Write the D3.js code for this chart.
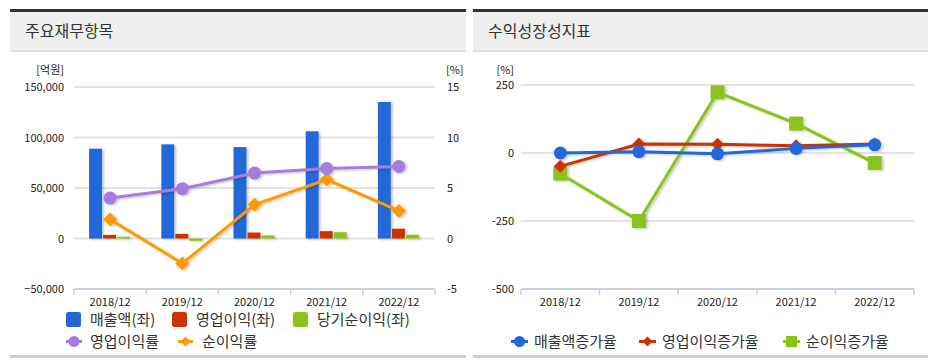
<!DOCTYPE html>
<html><head><meta charset="utf-8">
<script src="https://cdn.jsdelivr.net/npm/d3@7/dist/d3.min.js"></script>
<style>
body{margin:0;background:#fff;}
svg text{font-family:"Noto Sans CJK KR","Noto Sans",sans-serif;}
</style></head>
<body><svg id="c" width="933" height="362"></svg>
<script>
const categories = ["2018/12","2019/12","2020/12","2021/12","2022/12"];
// 주요재무항목 (억원)
const sales = [88900, 93200, 90500, 106100, 135200];
const opIncome = [3500, 4600, 5900, 7300, 9700];
const netIncome = [1700, -2300, 3000, 6200, 3700];
// (%)
const opMargin = [4.0, 4.92, 6.48, 6.93, 7.13];
const netMargin = [1.89, -2.47, 3.36, 5.83, 2.73];
// 수익성장성지표 (%)
const salesGrowth = [0, 5, -3, 17, 30];
const opGrowth = [-49, 33, 32, 27, 33];
const netGrowth = [-76, -250, 223, 108, -37];
const leftTicks = [-50000, 0, 50000, 100000, 150000];
const rightTicks = [-5, 0, 5, 10, 15];
const growthTicks = [-500, -250, 0, 250];

const C = {blue:"#2167d8", red:"#cc3300", green:"#8cc21a", purple:"#a77ddb", orange:"#ff9a00"};
const svg = d3.select("#c");
const defs = svg.append("defs");
const f = defs.append("filter").attr("id","sh").attr("x","-20%").attr("y","-20%").attr("width","160%").attr("height","160%");
f.append("feDropShadow").attr("dx",2).attr("dy",1).attr("stdDeviation",1).attr("flood-color","#000").attr("flood-opacity",0.22);

function panel(x0, x1, title){
  const g = svg.append("g");
  g.append("rect").attr("x",x0).attr("y",11).attr("width",x1-x0).attr("height",40).attr("fill","#efefef");
  g.append("rect").attr("x",x0).attr("y",9).attr("width",x1-x0).attr("height",3).attr("fill","#333");
  g.append("rect").attr("x",x0).attr("y",50.5).attr("width",x1-x0).attr("height",1.5).attr("fill","#dcdcdc");
  g.append("rect").attr("x",x0).attr("y",355).attr("width",x1-x0).attr("height",3).attr("fill","#cfcfcf");
  g.append("text").attr("x",x0+15).attr("y",37).attr("font-size",16).attr("fill","#333").text(title);
}
panel(10, 466, "주요재무항목");
panel(473, 928, "수익성장성지표");

function diamond(s){return `M0,${-s}L${s},0L0,${s}L${-s},0Z`;}
const FS = 11;

// ---------- Left chart ----------
{
  const x = d3.scaleBand().domain(categories).range([74,435]);
  const y = d3.scaleLinear().domain([-50000,150000]).range([289,87]);
  const y2 = d3.scaleLinear().domain([-5,15]).range([289,87]);
  const g = svg.append("g");
  g.selectAll(".gl").data(leftTicks.filter(d=>d>-50000)).join("line")
    .attr("x1",74).attr("x2",435).attr("y1",d=>y(d)).attr("y2",d=>y(d))
    .attr("stroke","#e3e3e3").attr("stroke-width",2);
  g.append("line").attr("x1",74).attr("x2",435).attr("y1",289).attr("y2",289).attr("stroke","#c9d3e0").attr("stroke-width",2);
  const bounds = categories.map(c=>x(c)).concat([435]);
  g.selectAll(".tk").data(bounds).join("line").attr("x1",d=>d).attr("x2",d=>d).attr("y1",289).attr("y2",295).attr("stroke","#c9d3e0").attr("stroke-width",1.5);
  g.selectAll(".xl").data(categories).join("text").attr("x",d=>x(d)+x.bandwidth()/2).attr("y",306)
    .attr("text-anchor","middle").attr("font-size",FS).attr("fill","#222").text(d=>d);
  g.selectAll(".yl").data(leftTicks).join("text").attr("x",64).attr("y",d=>y(d)+4).attr("text-anchor","end")
    .attr("font-size",FS).attr("fill","#222").text(d=>d3.format(",")(d));
  g.append("text").attr("x",64).attr("y",74).attr("text-anchor","end").attr("font-size",FS).attr("fill","#222").text("[억원]");
  g.selectAll(".yr").data(rightTicks).join("text").attr("x",447).attr("y",d=>y2(d)+4).attr("text-anchor","start")
    .attr("font-size",FS).attr("fill","#222").text(d=>d);
  g.append("text").attr("x",446).attr("y",74).attr("text-anchor","start").attr("font-size",FS).attr("fill","#222").text("[%]");

  const xs = d3.scaleBand().domain([0,1,2]).range([0,41]).paddingInner(0.08);
  const series = [[sales,C.blue],[opIncome,C.red],[netIncome,C.green]];
  const bg = g.append("g").attr("filter","url(#sh)");
  series.forEach(([vals,col],si)=>{
    bg.selectAll(null).data(vals).join("rect")
      .attr("x",(d,i)=>x(categories[i])+x.bandwidth()/2-21+xs(si))
      .attr("width",xs.bandwidth())
      .attr("y",d=>Math.min(y(d),y(0))).attr("height",d=>Math.abs(y(d)-y(0)))
      .attr("fill",col);
  });
  const cx = (d,i)=>x(categories[i])+x.bandwidth()/2;
  const line = d3.line().x(cx).y(d=>y2(d));
  const lg = g.append("g").attr("filter","url(#sh)");
  lg.append("path").datum(netMargin).attr("d",line).attr("fill","none").attr("stroke",C.orange).attr("stroke-width",3);
  lg.selectAll(null).data(netMargin).join("path").attr("transform",(d,i)=>`translate(${cx(d,i)},${y2(d)})`).attr("d",diamond(7)).attr("fill",C.orange);
  lg.append("path").datum(opMargin).attr("d",line).attr("fill","none").attr("stroke",C.purple).attr("stroke-width",3);
  lg.selectAll(null).data(opMargin).join("circle").attr("cx",cx).attr("cy",d=>y2(d)).attr("r",6.5).attr("fill",C.purple);

  // legend
  const L = g.append("g");
  const items1 = [["매출액(좌)",C.blue,66],["영업이익(좌)",C.red,172],["당기순이익(좌)",C.green,293]];
  items1.forEach(([t,c,lx])=>{
    L.append("rect").attr("x",lx).attr("y",312).attr("width",15).attr("height",15).attr("rx",2.5).attr("fill",c);
    L.append("text").attr("x",lx+24).attr("y",325).attr("font-size",15).attr("fill","#333").text(t);
  });
  L.append("line").attr("x1",66).attr("x2",82).attr("y1",341.5).attr("y2",341.5).attr("stroke",C.purple).attr("stroke-width",3);
  L.append("circle").attr("cx",74).attr("cy",341.5).attr("r",5.5).attr("fill",C.purple);
  L.append("text").attr("x",90).attr("y",347).attr("font-size",15).attr("fill","#333").text("영업이익률");
  L.append("line").attr("x1",178).attr("x2",193).attr("y1",341.5).attr("y2",341.5).attr("stroke",C.orange).attr("stroke-width",3);
  L.append("path").attr("transform","translate(185.5,341.5)").attr("d",diamond(5)).attr("fill",C.orange);
  L.append("text").attr("x",202).attr("y",347).attr("font-size",15).attr("fill","#333").text("순이익률");
}

// ---------- Right chart ----------
{
  const x = d3.scaleBand().domain(categories).range([521,914]);
  const y = d3.scaleLinear().domain([-500,250]).range([289,85]);
  const g = svg.append("g");
  g.selectAll(".gl").data(growthTicks.filter(d=>d>-500)).join("line")
    .attr("x1",521).attr("x2",914).attr("y1",d=>y(d)).attr("y2",d=>y(d))
    .attr("stroke","#e3e3e3").attr("stroke-width",2);
  g.append("line").attr("x1",521).attr("x2",914).attr("y1",289).attr("y2",289).attr("stroke","#c9d3e0").attr("stroke-width",2);
  const bounds = categories.map(c=>x(c)).concat([914]);
  g.selectAll(".tk").data(bounds).join("line").attr("x1",d=>d).attr("x2",d=>d).attr("y1",289).attr("y2",295).attr("stroke","#c9d3e0").attr("stroke-width",1.5);
  g.selectAll(".xl").data(categories).join("text").attr("x",d=>x(d)+x.bandwidth()/2).attr("y",306)
    .attr("text-anchor","middle").attr("font-size",FS).attr("fill","#222").text(d=>d);
  g.selectAll(".yl").data(growthTicks).join("text").attr("x",514).attr("y",d=>y(d)+4).attr("text-anchor","end")
    .attr("font-size",FS).attr("fill","#222").text(d=>d);
  g.append("text").attr("x",514).attr("y",74).attr("text-anchor","end").attr("font-size",FS).attr("fill","#222").text("[%]");

  const cx = (d,i)=>x(categories[i])+x.bandwidth()/2;
  const line = d3.line().x(cx).y(d=>y(d));
  const lg = g.append("g").attr("filter","url(#sh)");
  lg.append("path").datum(netGrowth).attr("d",line).attr("fill","none").attr("stroke",C.green).attr("stroke-width",3);
  lg.selectAll(null).data(netGrowth).join("rect").attr("x",(d,i)=>cx(d,i)-7).attr("y",d=>y(d)-7).attr("width",14).attr("height",14).attr("fill",C.green);
  lg.append("path").datum(opGrowth).attr("d",line).attr("fill","none").attr("stroke",C.red).attr("stroke-width",3);
  lg.selectAll(null).data(opGrowth).join("path").attr("transform",(d,i)=>`translate(${cx(d,i)},${y(d)})`).attr("d",diamond(6.5)).attr("fill",C.red);
  lg.append("path").datum(salesGrowth).attr("d",line).attr("fill","none").attr("stroke",C.blue).attr("stroke-width",3);
  lg.selectAll(null).data(salesGrowth).join("circle").attr("cx",cx).attr("cy",d=>y(d)).attr("r",6.5).attr("fill",C.blue);

  const L = g.append("g");
  const items = [["매출액증가율",C.blue,511,"c"],["영업이익증가율",C.red,639,"d"],["순이익증가율",C.green,783,"s"]];
  items.forEach(([t,c,lx,m])=>{
    L.append("line").attr("x1",lx).attr("x2",lx+17).attr("y1",341.5).attr("y2",341.5).attr("stroke",c).attr("stroke-width",3);
    if(m==="c") L.append("circle").attr("cx",lx+8.5).attr("cy",341.5).attr("r",5.5).attr("fill",c);
    else if(m==="d") L.append("path").attr("transform",`translate(${lx+8.5},341.5)`).attr("d",diamond(5)).attr("fill",c);
    else L.append("rect").attr("x",lx+3).attr("y",336).attr("width",11).attr("height",11).attr("fill",c);
    L.append("text").attr("x",lx+23).attr("y",347).attr("font-size",15).attr("fill","#333").text(t);
  });
}
</script></body></html>
